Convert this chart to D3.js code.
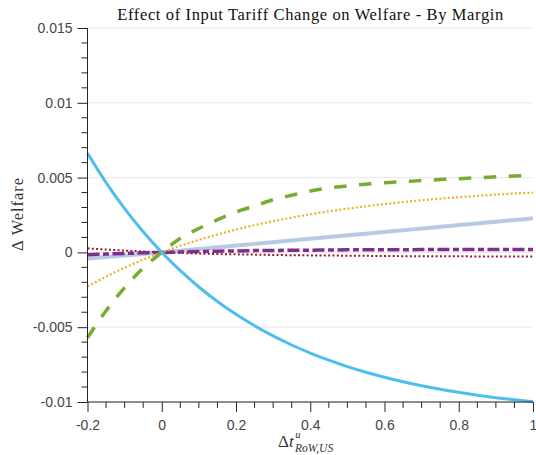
<!DOCTYPE html>
<html>
<head>
<meta charset="utf-8">
<script src="https://cdn.jsdelivr.net/npm/d3@7"></script>
<style>
html,body{margin:0;padding:0;background:#fff;}
svg{display:block;}
</style>
</head>
<body>
<svg id="chart" width="536" height="455"></svg>
<script>
const xValues = [-0.2,-0.15,-0.1,-0.05,0,0.05,0.1,0.15,0.2,0.25,0.3,0.35,0.4,0.45,0.5,0.55,0.6,0.65,0.7,0.75,0.8,0.85,0.9,0.95,1.0];
const blueSeries = [0.006624,0.004666,0.002925,0.001377,0,-0.001224,-0.002312,-0.00328,-0.00414,-0.004905,-0.005585,-0.00619,-0.006728,-0.007206,-0.007631,-0.008008,-0.008345,-0.008643,-0.008909,-0.009146,-0.009355,-0.009542,-0.009709,-0.009855,-0.009987];
const greenSeries = [-0.0057,-0.0039,-0.00235,-0.00105,0,0.00095,0.0016,0.00218,0.0027,0.0031,0.00352,0.00382,0.0041,0.0043,0.00445,0.00456,0.00466,0.00473,0.0048,0.00487,0.00493,0.00499,0.00505,0.0051,0.00516];
const orangeSeries = [-0.002275,-0.001619,-0.001024,-0.000487,0,0.00044,0.000839,0.001199,0.001525,0.00182,0.002087,0.002329,0.002547,0.002745,0.002924,0.003086,0.003233,0.003365,0.003485,0.003594,0.003692,0.003781,0.003861,0.003934,0.004];
const steelSeries = [-0.0004,-0.0003,-0.0002,-0.0001,0,0.000114,0.000228,0.000342,0.000456,0.00057,0.000684,0.000798,0.000912,0.001026,0.00114,0.001254,0.001368,0.001482,0.001596,0.00171,0.001824,0.001938,0.002052,0.002166,0.00228];
const purpleSeries = [-0.00015,-0.00011,-0.00007,-0.00003,0,0.00003,0.00006,0.00008,0.0001,0.00012,0.00013,0.00014,0.00015,0.00016,0.00017,0.00017,0.00018,0.00018,0.00019,0.00019,0.00019,0.0002,0.0002,0.0002,0.0002];
const redSeries = [0.00027,0.00019,0.00012,0.00006,0,-0.00004,-0.00008,-0.00011,-0.00013,-0.00015,-0.00017,-0.00019,-0.0002,-0.00021,-0.00022,-0.00023,-0.00024,-0.00025,-0.00025,-0.00026,-0.00026,-0.00027,-0.00027,-0.00027,-0.00028];

const xTicks = [-0.2,0,0.2,0.4,0.6,0.8,1];
const xTickLabels = ["-0.2","0","0.2","0.4","0.6","0.8","1"];
const yTicks = [-0.01,-0.005,0,0.005,0.01,0.015];
const yTickLabels = ["-0.01","-0.005","0","0.005","0.01","0.015"];
const titleText = "Effect of Input Tariff Change on Welfare - By Margin";

const svg = d3.select("#chart");
const L = 87.5, R = 533, T = 28, B = 402;
const x = d3.scaleLinear().domain([-0.2, 1]).range([L, R]);
const y = d3.scaleLinear().domain([-0.01, 0.015]).range([B, T]);

const axisColor = "#262626";
const labelColor = "#454545";

// grid
svg.append("g").selectAll("line").data(yTicks).join("line")
  .attr("x1", L).attr("x2", R)
  .attr("y1", d => y(d)).attr("y2", d => y(d))
  .attr("stroke", "#e8e8e8").attr("stroke-width", 1);

// lines
const series = [
  {v: steelSeries, color: "#b0c4de", w: 4, dash: null, op: 0.9},
  {v: redSeries, color: "#a2142f", w: 2, dash: "2,2.3", op: 1},
  {v: purpleSeries, color: "#7e2f8e", w: 3.5, dash: "12,3.5,6,3.5", op: 1},
  {v: orangeSeries, color: "#edb120", w: 2.2, dash: "2,2.2", op: 1},
  {v: greenSeries, color: "#77ac30", w: 3.5, dash: "12.5,12.5", op: 1},
  {v: blueSeries, color: "#4dbeee", w: 3, dash: null, op: 1}
];
const lineGen = d3.line().x((d, i) => x(xValues[i])).y(d => y(d)).curve(d3.curveMonotoneX);
const lg = svg.append("g");
series.forEach(s => {
  lg.append("path").datum(s.v)
    .attr("d", lineGen)
    .attr("fill", "none")
    .attr("stroke", s.color)
    .attr("stroke-width", s.w)
    .attr("stroke-opacity", s.op)
    .attr("stroke-dasharray", s.dash);
});

// y axis
const yAxis = d3.axisLeft(y).tickValues(yTicks).tickFormat((d, i) => yTickLabels[i]).tickSize(10).tickPadding(5);
const yMinor = d3.range(-0.01, 0.0150001, 0.001).map(v => Math.round(v * 1e6) / 1e6).filter(v => !yTicks.some(t => Math.abs(t - v) < 1e-9));
const yg = svg.append("g").attr("transform", `translate(${L},0)`).call(yAxis);
yg.select(".domain").attr("stroke", axisColor).attr("d", `M0,${T}V${B}`);
yg.selectAll(".tick line").attr("stroke", axisColor);
yg.selectAll(".tick text").attr("fill", labelColor).attr("font-family", "Liberation Sans, Arial, sans-serif").attr("font-size", 14).attr("x", -15);
yg.append("g").selectAll("line").data(yMinor).join("line")
  .attr("x1", -6).attr("x2", 0).attr("y1", d => y(d)).attr("y2", d => y(d))
  .attr("stroke", axisColor);

// x axis
const xAxis = d3.axisBottom(x).tickValues(xTicks).tickFormat((d, i) => xTickLabels[i]).tickSize(10).tickPadding(8);
const xMinor = d3.range(-0.2, 1.00001, 0.05).map(v => Math.round(v * 1e6) / 1e6).filter(v => !xTicks.some(t => Math.abs(t - v) < 1e-9));
const xg = svg.append("g").attr("transform", `translate(0,${B})`).call(xAxis);
xg.select(".domain").attr("stroke", axisColor).attr("d", `M${L},0H${R}`);
xg.selectAll(".tick line").attr("stroke", axisColor);
xg.selectAll(".tick text").attr("fill", labelColor).attr("font-family", "Liberation Sans, Arial, sans-serif").attr("font-size", 14);
xg.append("g").selectAll("line").data(xMinor).join("line")
  .attr("x1", d => x(d)).attr("x2", d => x(d)).attr("y1", 0).attr("y2", 6)
  .attr("stroke", axisColor);

// title
svg.append("text").attr("x", (L + R) / 2).attr("y", 19.5)
  .attr("text-anchor", "middle")
  .attr("font-family", "Liberation Serif, Times New Roman, serif")
  .attr("font-size", 16.5).attr("fill", "#111")
  .attr("textLength", 386).attr("lengthAdjust", "spacing")
  .text(titleText);

// y label
svg.append("text").attr("transform", "translate(23,214.5) rotate(-90)")
  .attr("text-anchor", "middle")
  .attr("font-family", "Liberation Serif, Times New Roman, serif")
  .attr("font-size", 16.5).attr("fill", "#333")
  .attr("textLength", 73).attr("lengthAdjust", "spacing")
  .text("Δ Welfare");

// x label
const xl = svg.append("text").attr("x", 278).attr("y", 447)
  .attr("font-family", "Liberation Serif, Times New Roman, serif")
  .attr("fill", "#333").attr("font-size", 17);
xl.append("tspan").text("Δ");
xl.append("tspan").attr("font-style", "italic").text("t");
xl.append("tspan").attr("font-style", "italic").attr("font-size", 10.5).attr("dy", -9).attr("dx", 1.5).text("u");
xl.append("tspan").attr("font-style", "italic").attr("font-size", 11.5).attr("dy", 14).attr("dx", -5.5).text("RoW,US");
</script>
</body>
</html>
